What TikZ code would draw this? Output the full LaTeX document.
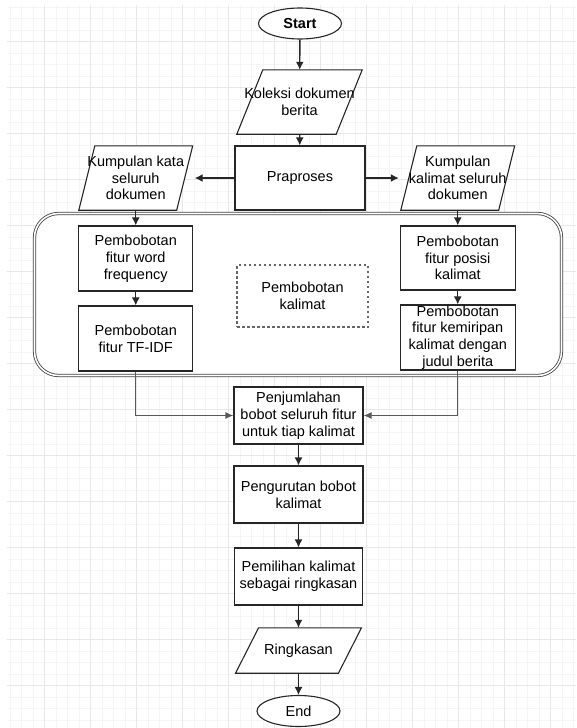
\documentclass[tikz,border=0pt]{standalone}
\usepackage{fontspec}
\setmainfont{Liberation Sans}
\usetikzlibrary{arrows.meta,shapes.geometric}

% jajaran genjang di sekeliling sebuah node persegi (node, setengah geseran)
\newcommand{\genjang}[2]{%
  \filldraw[garis] ([xshift=#2]#1.north west) -- ([xshift=#2]#1.north east)
    -- ([xshift=-#2]#1.south east) -- ([xshift=-#2]#1.south west) -- cycle;}

\begin{document}
\begin{tikzpicture}[
    x=1pt, y=-1pt,
    font=\fontsize{14.5pt}{16.8pt}\selectfont,
    garis/.style={draw=black!85,line width=1.1pt,fill=white},
    kotak/.style={garis,align=center,inner sep=2pt},
    tempat/.style={inner sep=0pt},
    teks/.style={align=center,inner sep=0pt},
    terminal/.style={garis,ellipse,minimum width=83pt,minimum height=31pt,inner sep=0pt},
    panah/.style={line width=1.4pt,black!85,-{Latex[length=8pt,width=8pt]}},
    sambung/.style={line width=1.1pt,black!65,-{Latex[length=8pt,width=7pt]}},
    gridkecil/.style={black!4,line width=0.6pt},
    gridbesar/.style={black!9,line width=0.9pt}]

  \useasboundingbox (0,0) rectangle (576,728);

  % ---- latar berpetak ---------------------------------------------------------
  \begin{scope}
    \clip (7,5) rectangle (576,728);
    \foreach \i in {0,...,52} \draw[gridkecil] (-1.7+11.5*\i,5) -- (-1.7+11.5*\i,728);
    \foreach \i in {0,...,64} \draw[gridkecil] (7,-4.7+11.5*\i) -- (576,-4.7+11.5*\i);
    \foreach \i in {0,...,13} \draw[gridbesar] (-1.7+46*\i,5) -- (-1.7+46*\i,728);
    \foreach \i in {0,...,16} \draw[gridbesar] (7,-4.7+46*\i) -- (576,-4.7+46*\i);
  \end{scope}

  % ---- wadah pembobotan kalimat ----------------------------------------------
  \node[draw=black!75,double,double distance=1.6pt,line width=0.8pt,rounded corners=24pt,
        fill=white,minimum width=527pt,minimum height=162pt] (wadah) at (298,294.5) {};

  % ---- bagian atas --------------------------------------------------------------
  \node[terminal,font=\fontsize{14.5pt}{16.8pt}\selectfont\bfseries] (start) at (300,23.5) {Start};

  \node[tempat,minimum width=99pt,minimum height=64pt] (koleksi) at (299.5,102) {};
  \genjang{koleksi}{13pt}
  \node[teks] (koleksiteks) at (koleksi) {Koleksi dokumen\\berita};

  \node[kotak,minimum width=130pt,minimum height=64pt] (praproses) at (300,178) {Praproses};

  \node[tempat,minimum width=97.5pt,minimum height=64pt] (kata) at (135.75,178) {};
  \genjang{kata}{8pt}
  \node[teks] (katateks) at (kata) {Kumpulan kata\\seluruh\\dokumen};

  \node[tempat,minimum width=97.5pt,minimum height=64pt] (kalimat) at (457.75,178) {};
  \genjang{kalimat}{8pt}
  \node[teks] (kalimatteks) at (kalimat) {Kumpulan\\kalimat seluruh\\dokumen};

  % ---- isi wadah ----------------------------------------------------------------
  \node[kotak,minimum width=114pt,minimum height=65pt] (wordfreq) at (135.75,258.5)
       {Pembobotan\\fitur word\\frequency};
  \node[kotak,minimum width=114pt,minimum height=65pt] (tfidf) at (135.75,338.5)
       {Pembobotan\\fitur TF-IDF};
  \node[draw=black!60,line width=1.2pt,dash pattern=on 2.5pt off 2.5pt,align=center,
        minimum width=131pt,minimum height=62pt] (bobotkalimat) at (302.5,296)
       {Pembobotan\\kalimat};
  \node[kotak,minimum width=115pt,minimum height=64pt] (posisi) at (457.75,258)
       {Pembobotan\\fitur posisi\\kalimat};
  \node[kotak,minimum width=115pt,minimum height=65pt] (kemiripan) at (457.75,337.5) {};
  \node[teks] (kemiripanteks) at (kemiripan)
       {Pembobotan\\fitur kemiripan\\kalimat dengan\\judul berita};

  % ---- bagian bawah -------------------------------------------------------------
  \node[kotak,minimum width=129pt,minimum height=57pt] (penjumlahan) at (298.5,415.5)
       {Penjumlahan\\bobot seluruh fitur\\untuk tiap kalimat};
  \node[kotak,minimum width=129pt,minimum height=57pt] (pengurutan) at (298.5,494.5)
       {Pengurutan bobot\\kalimat};
  \node[kotak,minimum width=128pt,minimum height=57pt] (pemilihan) at (298.5,576.5)
       {Pemilihan kalimat\\sebagai ringkasan};
  \node[tempat,minimum width=102.5pt,minimum height=45pt] (ringkasan) at (298.5,650.5) {};
  \genjang{ringkasan}{11.5pt}
  \node[teks] (ringkasanteks) at (ringkasan) {Ringkasan};
  \node[terminal] (end) at (298.5,711) {End};

  % ---- panah --------------------------------------------------------------------
  \draw[panah] (start) -- (koleksi);
  \draw[panah] (koleksi) -- (praproses);
  \draw[panah,shorten >=10pt] (praproses) -- (kata);
  \draw[panah,shorten >=10pt] (praproses) -- (kalimat);
  \draw[panah] (kata) -- (wordfreq);
  \draw[panah] (kalimat) -- (posisi);
  \draw[panah] (wordfreq) -- (tfidf);
  \draw[panah] (posisi) -- (kemiripan);
  \draw[sambung] (tfidf) |- (penjumlahan);
  \draw[sambung] (kemiripan) |- (penjumlahan);
  \draw[panah] (penjumlahan) -- (pengurutan);
  \draw[panah] (pengurutan) -- (pemilihan);
  \draw[panah] (pemilihan) -- (ringkasan);
  \draw[panah] (ringkasan) -- (end);

\end{tikzpicture}
\end{document}
